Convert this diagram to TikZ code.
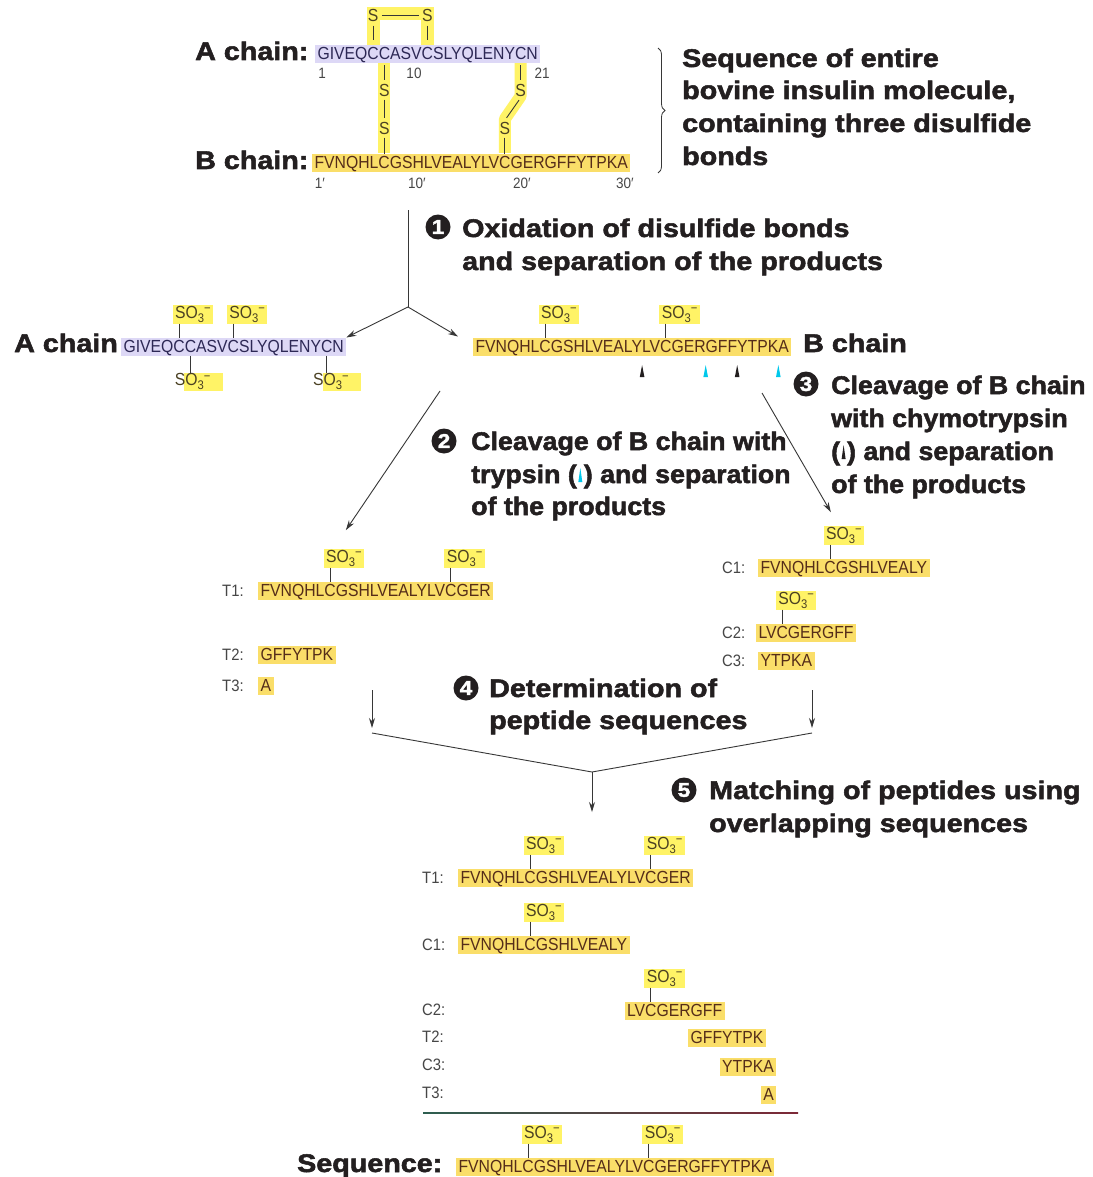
\documentclass[tikz,border=0pt]{standalone}
\usepackage{fontspec}
\usetikzlibrary{arrows.meta,calc,decorations.pathreplacing}
\newfontfamily\hdfont[FakeStretch=1.125,FakeBold=2]{Liberation Sans Bold}
\newfontfamily\hdnarrowfont[FakeStretch=1.05,FakeBold=2]{Liberation Sans Bold}
\newfontfamily\sqfont[FakeStretch=0.9]{Liberation Sans}
\newcommand\hdtype{\hdfont\fontsize{25.5}{32.7}\selectfont}
\newcommand\hdntype{\hdnarrowfont\fontsize{25.5}{32.7}\selectfont}
\newcommand\seqtype{\sqfont\fontsize{17.5}{20}\selectfont}
\newcommand\lbltype{\sqfont\fontsize{16.5}{20}\selectfont}
\newcommand\numtype{\sqfont\fontsize{15}{15}\selectfont}
\newcommand\circtype{\hdfont\fontsize{20}{20}\selectfont}
\newcommand\smalltype{\sqfont\fontsize{12.5}{12}\selectfont}

\definecolor{lemon}{RGB}{255,243,102}
\definecolor{goldc}{RGB}{250,222,105}
\definecolor{lavc}{RGB}{221,216,246}
\definecolor{seqbrown}{RGB}{85,45,25}
\definecolor{seqnavy}{RGB}{45,40,85}
\definecolor{sotext}{RGB}{75,65,35}
\definecolor{lblgray}{RGB}{70,70,70}
\definecolor{ink}{RGB}{35,31,32}
\definecolor{linegray}{RGB}{55,55,55}
\definecolor{cleavecyan}{RGB}{0,200,235}

\pgfdeclarelayer{back}
\pgfsetlayers{back,main}

\newcommand\sothree{SO\raisebox{-4pt}{\smalltype 3}\raisebox{5.5pt}{\smalltype −}}

% small upright wedge used as an inline enzyme symbol
\newcommand\wedgesym[1]{\begin{pgfpicture}\pgfsetfillcolor{#1}%
  \pgfpathmoveto{\pgfpoint{0pt}{0pt}}\pgfpathlineto{\pgfpoint{2pt}{14pt}}%
  \pgfpathlineto{\pgfpoint{4pt}{0pt}}\pgfpathclose\pgfusepath{fill}\end{pgfpicture}}

\newlength\prefw
\newlength\letw
% offset (from a chain box's west side) of the centre of a residue,
% or of a residue boundary when #3 is empty
\newcommand\mkoff[3]{%
  \settowidth\prefw{\seqtype #2}\settowidth\letw{\seqtype #3}%
  \prefw=\dimexpr\prefw+\letw/2+2.5pt\relax
  \expandafter\xdef\csname off#1\endcsname{\the\prefw}}

\newcommand\seqat[3]{%
  \coordinate (#1) at ($(#2.base west)+(\csname off#3\endcsname,0pt)$);}
% start of a fragment placed under a given residue boundary of a reference chain
\newcommand\alignat[3]{%
  \coordinate (#1) at ($(#2.base west)+(\csname off#3\endcsname-2.5pt,0pt)$);}
% sulfonate above a cysteine
\newcommand\soup[3]{%
  \node[sobox, anchor=south west] (#1) at ($(#3.north -| #2)+(-6.5,-14)$) {\sothree};
  \draw[bond] (#1.south -| #2) -- (#3.north -| #2);}
% sulfonate below a cysteine, yellow tint printed slightly off register
\newcommand\sodown[4]{%
  \node[sotxt, anchor=north west] (#1) at ($(#3.south -| #2)+(#4,17)$) {\sothree};
  \begin{pgfonlayer}{back}
    \fill[lemon] ($(#1.north west)+(12,0)$) rectangle ($(#1.south east)+(10,0)$);
  \end{pgfonlayer}
  \draw[bond] (#3.south -| #2) -- (#1.north -| #2);}
% cleavage marker under a chain
\newcommand\cutmark[2]{%
  \fill[#2] ($(#1)+(-2.3,25)$) -- ($(#1)+(0,13)$) -- ($(#1)+(2.3,25)$) -- cycle;}

\tikzset{
  seq/.style={font=\seqtype, inner xsep=2.5pt, inner ysep=0.5pt, text height=14pt,
    text depth=3pt, outer sep=0pt, anchor=base west},
  gold/.style={seq, fill=goldc, text=seqbrown},
  lav/.style={seq, fill=lavc, text=seqnavy},
  sobox/.style={font=\seqtype, fill=lemon, text=sotext, inner xsep=2.5pt, inner ysep=1pt, outer sep=0pt},
  sotxt/.style={font=\seqtype, text=sotext, inner xsep=2.5pt, inner ysep=1pt, outer sep=0pt},
  sul/.style={font=\seqtype, text=sotext, inner sep=1.5pt, outer sep=0pt},
  lbl/.style={font=\lbltype, text=lblgray, anchor=base west, inner sep=0pt},
  resnum/.style={font=\numtype, text=lblgray, inner sep=0pt},
  hd/.style={font=\hdtype, text=ink, anchor=base west, inner sep=0pt},
  hdn/.style={hd, font=\hdntype},
  stepnum/.style={circle, fill=ink, text=white, font=\circtype, inner sep=0pt, minimum size=25pt},
  conn/.style={draw=linegray, line width=0.9pt},
  arr/.style={conn, -{Stealth[length=10pt,width=6pt]}},
  bond/.style={draw=linegray, line width=0.9pt},
}

\begin{document}
\mkoff{C6A}{GIVEQ}{C}%
\mkoff{C7A}{GIVEQC}{C}%
\mkoff{C11A}{GIVEQCCASV}{C}%
\mkoff{C20A}{GIVEQCCASVCSLYQLENY}{C}%
\mkoff{C7B}{FVNQHL}{C}%
\mkoff{C19B}{FVNQHLCGSHLVEALYLV}{C}%
\mkoff{C3LV}{LV}{C}%
\mkoff{Y16}{FVNQHLCGSHLVEALY}{}%
\mkoff{R22}{FVNQHLCGSHLVEALYLVCGER}{}%
\mkoff{F25}{FVNQHLCGSHLVEALYLVCGERGFF}{}%
\mkoff{K29}{FVNQHLCGSHLVEALYLVCGERGFFYTPK}{}%
\begin{tikzpicture}[x=1pt,y=-1pt]
\begin{pgfonlayer}{back}
  \fill[white] (0,0) rectangle (1092,1177);
\end{pgfonlayer}
\useasboundingbox (0,0) rectangle (1092,1177);

% ---------- intact insulin ----------
\node[hd] (tA) at (195,60) {A chain:};
\node[lav] (topA) at (315,60) {GIVEQCCASVCSLYQLENYCN};
\node[hd] (tB) at (195,169) {B chain:};
\node[gold] (topB) at (312,169) {FVNQHLCGSHLVEALYLVCGERGFFYTPKA};

\seqat{a6}{topA}{C6A}
\seqat{a7}{topA}{C7A}
\seqat{a11}{topA}{C11A}
\seqat{a20}{topA}{C20A}
\seqat{b7}{topB}{C7B}
\seqat{b19}{topB}{C19B}

\begin{pgfonlayer}{back}
  \draw[lemon, line width=13pt] ($(a6)+(0,-13)$) -- ($(a6)+(0,-46.5)$) -- ($(a11)+(0,-46.5)$) -- ($(a11)+(0,-13)$);
  \draw[lemon, line width=12pt] ($(a7)+(0,2)$) -- ($(a7 |- b7)+(0,-16)$);
  \draw[lemon, line width=12pt, line join=round] ($(a20)+(0,2)$) -- ($(a20)+(0,36)$) -- ($(b19)+(0,-50)$) -- ($(b19)+(0,-16)$);
\end{pgfonlayer}

\node[sul] (s1) at ($(a6)+(0,-45)$) {S};
\node[sul] (s2) at ($(a11)+(0,-45)$) {S};
\node[sul] (s3) at ($(a7)+(0,30)$) {S};
\node[sul] (s4) at ($(a7)+(0,68)$) {S};
\node[sul] (s5) at ($(a20)+(0,30)$) {S};
\node[sul] (s6) at ($(b19)+(0,-41)$) {S};

\draw[bond, shorten <=2pt, shorten >=2pt] (s1) -- (s2);
\draw[bond, shorten <=3pt, shorten >=5pt] (s1.south) -- (topA.north -| s1);
\draw[bond, shorten <=3pt, shorten >=5pt] (s2.south) -- (topA.north -| s2);
\draw[bond, shorten <=2pt, shorten >=2pt] (topA.south -| s3) -- (s3.north);
\draw[bond, shorten <=2pt, shorten >=2pt] (s3.south) -- (s4.north);
\draw[bond, shorten <=2pt] (s4.south) -- (topB.north -| s4);
\draw[bond, shorten <=2pt, shorten >=2pt] (topA.south -| s5) -- (s5.north);
\draw[bond, shorten <=3pt, shorten >=3pt] (s5.south) -- (s6.north);
\draw[bond, shorten <=2pt] (s6.south) -- (topB.north -| s6);

\node[resnum] (n1) at (322,73) {1};
\node[resnum] (n10) at (414,73) {10};
\node[resnum] (n21) at (542,73) {21};
\node[resnum] (m1) at (320,183) {1′};
\node[resnum] (m10) at (417,183) {10′};
\node[resnum] (m20) at (522,183) {20′};
\node[resnum] (m30) at (625,183) {30′};

\coordinate (brtop) at (658,48);
\coordinate (brbot) at (658,173);
\draw[linegray, line width=0.8pt, decorate, decoration={brace, amplitude=7pt}] (brtop) -- (brbot);
\node[hd] (d1) at (682,67) {Sequence of entire};
\node[hd] (d2) at (682,99) {bovine insulin molecule,};
\node[hd] (d3) at (682,132) {containing three disulfide};
\node[hd] (d4) at (682,165) {bonds};

% ---------- step 1 ----------
\node[stepnum] (c1) at (438,227) {1};
\node[hd] (o1a) at (462,237) {Oxidation of disulfide bonds};
\node[hd] (o1b) at (462,270) {and separation of the products};

\node[hd] (mA) at (14,352) {A chain};
\node[lav] (midA) at (121,352) {GIVEQCCASVCSLYQLENYCN};
\node[gold] (midB) at (473,352) {FVNQHLCGSHLVEALYLVCGERGFFYTPKA};
\node[hd] (mB) at (803,352) {B chain};

\coordinate (f1) at (408,210);
\coordinate (j1) at (408,307);
\draw[conn] (f1) -- (j1);
\draw[arr] (j1) -- (midA.north east);
\draw[arr] (j1) -- ($(midB.north west)+(-15,-1)$);

\seqat{ma6}{midA}{C6A}
\seqat{ma7}{midA}{C7A}
\seqat{ma11}{midA}{C11A}
\seqat{ma20}{midA}{C20A}
\soup{as1}{ma6}{midA}
\soup{as2}{ma11}{midA}
\sodown{as3}{ma7}{midA}{-18}
\sodown{as4}{ma20}{midA}{-16}

\seqat{mb7}{midB}{C7B}
\seqat{mb19}{midB}{C19B}
\soup{bs1}{mb7}{midB}
\soup{bs2}{mb19}{midB}

\seqat{k1}{midB}{Y16}
\seqat{k2}{midB}{R22}
\seqat{k3}{midB}{F25}
\seqat{k4}{midB}{K29}
\cutmark{k1}{ink}
\cutmark{k2}{cleavecyan}
\cutmark{k3}{ink}
\cutmark{k4}{cleavecyan}

% ---------- step 2: trypsin ----------
\node[stepnum] (c2) at (444,441) {2};
\node[hdn] (o2a) at (471,450) {Cleavage of B chain with};
\node[hdn] (o2b) at (471,483) {trypsin (\hspace{1.5pt}\raisebox{1pt}{\wedgesym{cleavecyan}}\hspace{1.5pt}) and separation};
\node[hdn] (o2c) at (471,515) {of the products};

\node[lbl] (lt1) at (222,596) {T1:};
\node[gold] (t1) at (258,596) {FVNQHLCGSHLVEALYLVCGER};
\node[lbl] (lt2) at (222,660) {T2:};
\node[gold] (t2) at (258,660) {GFFYTPK};
\node[lbl] (lt3) at (222,691) {T3:};
\node[gold] (t3) at (258,691) {A};
\seqat{t1c7}{t1}{C7B}
\seqat{t1c19}{t1}{C19B}
\soup{ts1}{t1c7}{t1}
\soup{ts2}{t1c19}{t1}

\coordinate (f2) at (440,391);
\draw[arr] (f2) -- ($(ts1.north)+(2,-19)$);

% ---------- step 3: chymotrypsin ----------
\node[stepnum] (c3) at (806,384) {3};
\node[hdn] (o3a) at (831,394) {Cleavage of B chain};
\node[hdn] (o3b) at (831,427) {with chymotrypsin};
\node[hdn] (o3c) at (831,460) {(\hspace{1.5pt}\raisebox{1pt}{\wedgesym{ink}}\hspace{1.5pt}) and separation};
\node[hdn] (o3d) at (831,493) {of the products};

\node[lbl] (lc1) at (722,573) {C1:};
\node[gold] (ch1) at (758,573) {FVNQHLCGSHLVEALY};
\node[lbl] (lc2) at (722,638) {C2:};
\node[gold] (ch2) at (756,638) {LVCGERGFF};
\node[lbl] (lc3) at (722,666) {C3:};
\node[gold] (ch3) at (758,666) {YTPKA};
\seqat{c1c7}{ch1}{C7B}
\seqat{c2c3}{ch2}{C3LV}
\soup{cs1}{c1c7}{ch1}
\soup{cs2}{c2c3}{ch2}

\coordinate (f3) at (762,393);
\draw[arr] (f3) -- ($(cs1.north)+(-13,-14)$);

% ---------- step 4 ----------
\node[stepnum] (c4) at (466,688) {4};
\node[hd] (o4a) at (489,697) {Determination of};
\node[hd] (o4b) at (489,729) {peptide sequences};

\coordinate (f4a) at (372,690);
\coordinate (f4b) at (812,690);
\coordinate (v4a) at (372,733);
\coordinate (v4b) at (812,733);
\coordinate (v4m) at (592,772);
\coordinate (e4) at (592,812);
\draw[arr, shorten >=5pt] (f4a) -- (v4a);
\draw[arr, shorten >=5pt] (f4b) -- (v4b);
\draw[conn] (v4a) -- (v4m) -- (v4b);
\draw[arr] (v4m) -- (e4);

% ---------- step 5 ----------
\node[stepnum] (c5) at (684,790) {5};
\node[hd] (o5a) at (709,799) {Matching of peptides using};
\node[hd] (o5b) at (709,832) {overlapping sequences};

\node[lbl] (xt1) at (422,883) {T1:};
\node[gold] (ft1) at (458,883) {FVNQHLCGSHLVEALYLVCGER};
\node[lbl] (xc1) at (422,950) {C1:};
\node[gold] (fc1) at (458,950) {FVNQHLCGSHLVEALY};
\alignat{p17}{ft1}{Y16}
\alignat{p23}{ft1}{R22}
\alignat{p26}{ft1}{F25}
\alignat{p30}{ft1}{K29}
\coordinate (r2) at (0,1016);
\coordinate (r3) at (0,1043);
\coordinate (r4) at (0,1072);
\coordinate (r5) at (0,1100);
\node[lbl] (xc2) at (422,1015) {C2:};
\node[gold] (fc2) at (p17 |- r2) {LVCGERGFF};
\node[lbl] (xt2) at (422,1042) {T2:};
\node[gold] (ft2) at (p23 |- r3) {GFFYTPK};
\node[lbl] (xc3) at (422,1070) {C3:};
\node[gold] (fc3) at (p26 |- r4) {YTPKA};
\node[lbl] (xt3) at (422,1098) {T3:};
\node[gold] (ft3) at (p30 |- r5) {A};

\seqat{ft1c7}{ft1}{C7B}
\seqat{ft1c19}{ft1}{C19B}
\seqat{fc1c7}{fc1}{C7B}
\seqat{fc2c3}{fc2}{C3LV}
\soup{us1}{ft1c7}{ft1}
\soup{us2}{ft1c19}{ft1}
\soup{us3}{fc1c7}{fc1}
\soup{us4}{fc2c3}{fc2}

\shade[left color={rgb,255:red,45;green,95;blue,80}, right color={rgb,255:red,125;green,40;blue,55}]
  (423,1112.3) rectangle (798,1113.7);

\node[hd] (sq) at (297,1172) {Sequence:};
\node[gold] (full) at (456,1172) {FVNQHLCGSHLVEALYLVCGERGFFYTPKA};
\seqat{fu7}{full}{C7B}
\seqat{fu19}{full}{C19B}
\soup{fs1}{fu7}{full}
\soup{fs2}{fu19}{full}
\end{tikzpicture}
\end{document}
